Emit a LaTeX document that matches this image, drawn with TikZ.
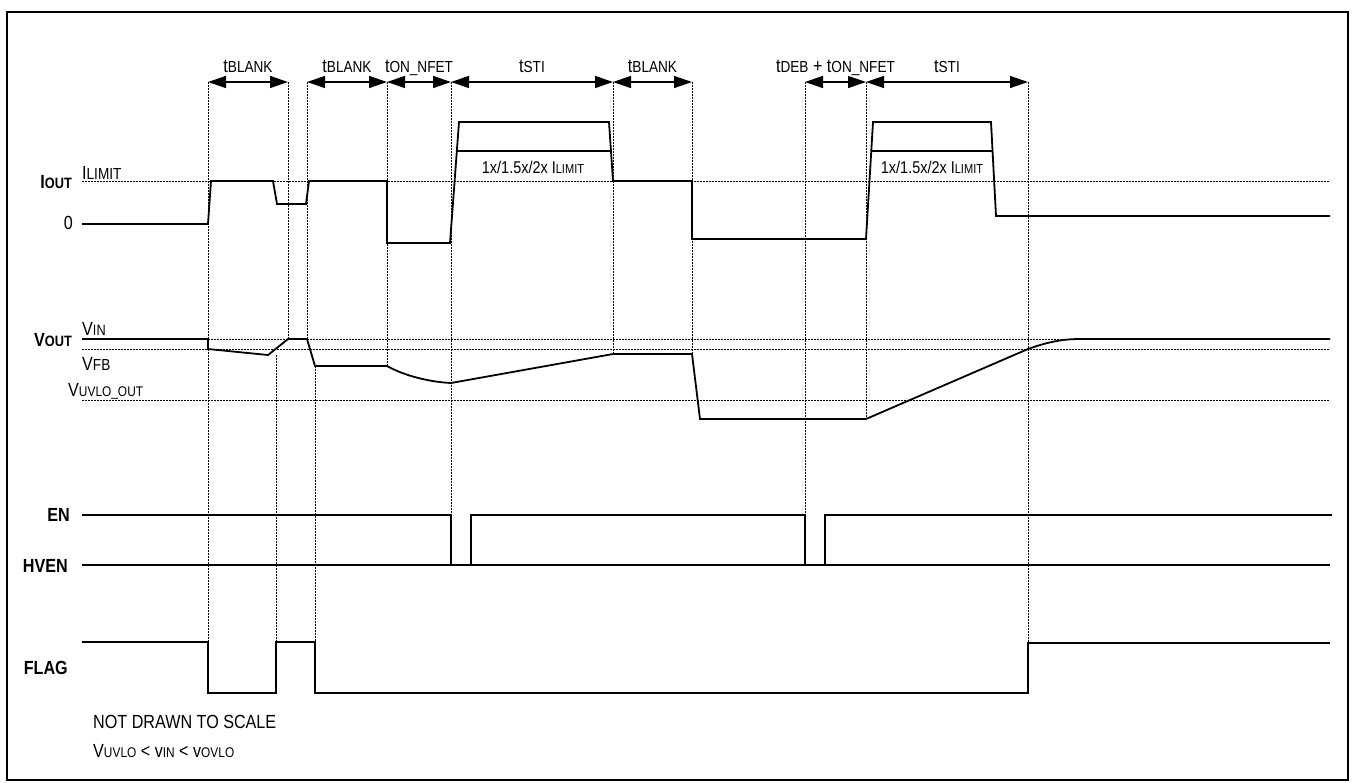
\documentclass[tikz,border=0pt]{standalone}
\usepackage{fontspec}
\setmainfont{Liberation Sans}[FakeStretch=0.85]
\usetikzlibrary{arrows.meta, positioning}
\newcommand{\sm}[2][12]{{\fontsize{#1pt}{#1pt}\selectfont #2}}
\tikzset{
  wave/.style={line width=1.8pt, line join=miter},
  guide/.style={line width=0.9pt, dash pattern=on 2pt off 1pt},
  span/.style={line width=1.4pt, {Triangle[length=18pt,width=12pt]}-{Triangle[length=18pt,width=12pt]}},
  spanlabel/.style={font=\fontsize{19pt}{19pt}\selectfont, inner sep=0pt, anchor=base, yshift=10pt},
  signame/.style={font=\bfseries\fontsize{19pt}{19pt}\selectfont, inner sep=0pt, anchor=base east},
  levelname/.style={font=\fontsize{19pt}{19pt}\selectfont, inner sep=0pt, anchor=base west},
}
\begin{document}
\begin{tikzpicture}[x=1pt, y=-1pt]
  \useasboundingbox (0,0) rectangle (1354,782);
  % Frame
  \draw[line width=2pt] (7,12) rectangle (1348,780);
  % Time marks
  \foreach \x [count=\i] in {208,288,307,387,451,613,692,805,866,1028}
    \coordinate (m\i) at (\x,82);
  % Spans
  \foreach \a/\b/\txt [count=\i] in {
      1/2/t\sm[16]{BLANK},
      3/4/t\sm[16]{BLANK},
      4/5/t\sm[16]{ON\_NFET},
      5/6/t\sm[16]{STI},
      6/7/t\sm[16]{BLANK},
      8/9/t\sm[16]{DEB} + t\sm[16]{ON\_NFET},
      9/10/t\sm[16]{STI}} {
    \draw[span] (m\a) -- (m\b);
    \path (m\a) -- (m\b) node[spanlabel, pos=0.5] (span\i) {\txt};
  }
  % Guide lines
  \foreach \x/\ya/\yb in {208/82/693, 288/82/339, 276/355/693, 307/82/339,
      315/366/693, 387/82/366, 451/82/515, 613/82/354, 692/82/354,
      805/82/515, 866/82/419, 1028/82/643}
    \draw[guide] (\x,\ya) -- (\x,\yb);
  \foreach \y in {181,339,349,400}
    \draw[guide] (82,\y) -- (1330,\y);
  % IOUT
  \draw[wave] (82,224) -- (208,224) -- (211,181) -- (273,181) -- (277,204) -- (306,204)
    -- (309,181) -- (387,181) -- (387,243) -- (450,243) -- (459,122) -- (609,122)
    -- (613,181) -- (692,181) -- (692,239) -- (866,239) -- (873,122) -- (991,122)
    -- (996,216) -- (1330,216);
  \draw[wave] (457,151) -- (611,151);
  \draw[wave] (871,151) -- (993,151);
  \node[font=\fontsize{17pt}{17pt}\selectfont, inner sep=0pt, anchor=base] (pulse1) at (533,173) {1x/1.5x/2x I\sm[13]{LIMIT}};
  \node[font=\fontsize{17pt}{17pt}\selectfont, inner sep=0pt, anchor=base] (pulse2) at (932,173) {1x/1.5x/2x I\sm[13]{LIMIT}};
  % VOUT
  \draw[wave] (82,339) -- (208,339) -- (208,349) -- (268,355) -- (288,339) -- (307,339)
    -- (315,366) -- (387,366) .. controls (405,376) and (430,382) .. (451,383)
    -- (613,354) -- (692,354) -- (700,419) -- (866,419) -- (1028,349)
    .. controls (1045,343) and (1060,339) .. (1080,339) -- (1330,339);
  % EN, HVEN
  \draw[wave] (82,515) -- (451,515) -- (451,565) -- (471,565) -- (471,515) -- (805,515)
    -- (805,565) -- (825,565) -- (825,515) -- (1332,515);
  \draw[wave] (82,565) -- (1330,565);
  % FLAG
  \draw[wave] (82,642) -- (208,642) -- (208,693) -- (276,693) -- (276,642) -- (315,642)
    -- (315,693) -- (1028,693) -- (1028,643) -- (1330,643);
  % Signal names
  \node[signame] (iout) at (72,188) {I\sm[15]{OUT}};
  \node[signame] (vout) at (72,346) {V\sm[15]{OUT}};
  \node[signame] (en) at (70,521) {EN};
  \node[signame] (hven) at (68,572) {HVEN};
  \node[signame] (flag) at (68,674) {FLAG};
  % Levels
  \node[levelname, anchor=base east] (zero) at (73,229) {0};
  \node[levelname] (ilimit) at (82,179) {I\sm[16]{LIMIT}};
  \node[levelname] (vin) at (82,335) {V\sm[15]{IN}};
  \node[levelname] (vfb) at (82,370) {V\sm[16]{FB}};
  \node[levelname] (vuvlo) at (68,396) {V\sm[14]{UVLO\_OUT}};
  % Notes
  \node[levelname] (note) at (93,728) {NOT DRAWN TO SCALE};
  \node[levelname] (cond) at (93,757) {V\sm[14]{UVLO} < v\sm[14]{IN} < v\sm[14]{OVLO}};
\end{tikzpicture}
\end{document}
